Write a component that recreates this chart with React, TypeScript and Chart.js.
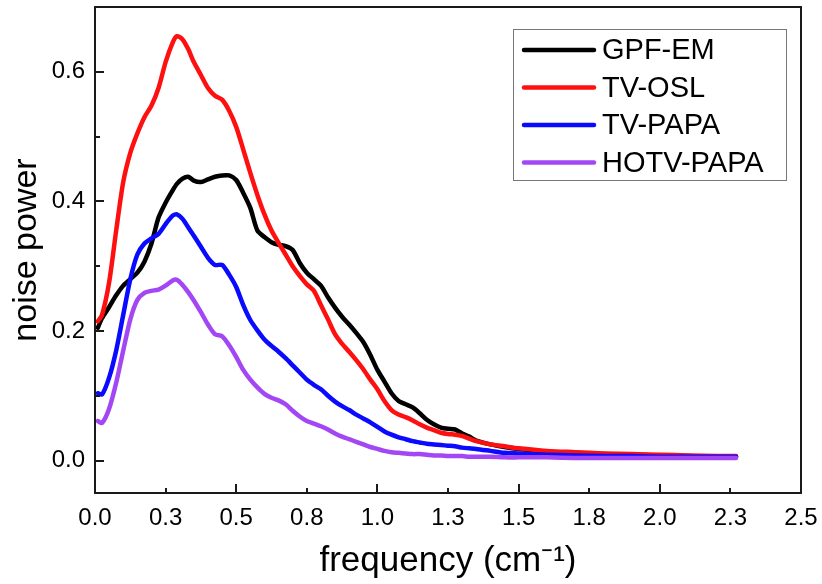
import React, { useEffect, useRef } from "react";
import { Chart, registerables } from "chart.js";

Chart.register(...registerables);

const frequency = [
  0.01, 0.025, 0.05, 0.075, 0.1, 0.125, 0.15, 0.175, 0.2, 0.225, 0.25, 0.275, 0.29, 0.31, 0.33, 0.35,
  0.375, 0.4, 0.425, 0.45, 0.475, 0.5, 0.525, 0.55, 0.575, 0.6, 0.625, 0.65, 0.675, 0.7, 0.725, 0.75,
  0.775, 0.8, 0.825, 0.85, 0.875, 0.9, 0.925, 0.95, 0.975, 1.0, 1.025, 1.05, 1.075, 1.1, 1.125, 1.15,
  1.175, 1.2, 1.225, 1.25, 1.275, 1.3, 1.325, 1.35, 1.4, 1.45, 1.5, 1.6, 1.7, 1.8, 1.9, 2.0, 2.1, 2.2, 2.27,
];

const gpfEm = [
  0.205, 0.22, 0.237, 0.255, 0.27, 0.28, 0.29, 0.307, 0.335, 0.375, 0.398, 0.417, 0.427, 0.435, 0.438, 0.432,
  0.43, 0.434, 0.438, 0.44, 0.44, 0.433, 0.413, 0.39, 0.355, 0.345, 0.337, 0.333, 0.331, 0.325, 0.305, 0.29,
  0.28, 0.27, 0.252, 0.236, 0.222, 0.21, 0.197, 0.183, 0.163, 0.14, 0.122, 0.104, 0.092, 0.087, 0.082, 0.073,
  0.063, 0.056, 0.051, 0.049, 0.048, 0.042, 0.037, 0.031, 0.025, 0.021, 0.018, 0.014, 0.012, 0.01, 0.009, 0.008, 0.007, 0.006, 0.006,
];

const tvOsl = [
  0.215, 0.225, 0.275, 0.355, 0.43, 0.475, 0.505, 0.53, 0.548, 0.575, 0.615, 0.645, 0.655, 0.65, 0.635, 0.615,
  0.595, 0.575, 0.563, 0.557, 0.54, 0.515, 0.48, 0.444, 0.41, 0.38, 0.355, 0.336, 0.318, 0.3, 0.285, 0.272,
  0.262, 0.24, 0.218, 0.195, 0.18, 0.168, 0.155, 0.141, 0.125, 0.11, 0.092, 0.078, 0.071, 0.067, 0.062, 0.056,
  0.051, 0.047, 0.043, 0.041, 0.04, 0.038, 0.034, 0.03, 0.025, 0.022, 0.019, 0.015, 0.013, 0.011, 0.01, 0.009, 0.008, 0.007, 0.007,
];

const tvPapa = [
  0.104, 0.102, 0.128, 0.17, 0.225, 0.28, 0.318, 0.335, 0.343, 0.35, 0.365, 0.378, 0.38, 0.373, 0.36, 0.347,
  0.33, 0.313, 0.302, 0.302, 0.287, 0.268, 0.24, 0.217, 0.201, 0.187, 0.177, 0.168, 0.158, 0.147, 0.136, 0.125,
  0.117, 0.11, 0.1, 0.091, 0.084, 0.078, 0.071, 0.065, 0.059, 0.052, 0.045, 0.04, 0.036, 0.033, 0.03, 0.028,
  0.026, 0.025, 0.024, 0.023, 0.022, 0.02, 0.019, 0.018, 0.015, 0.012, 0.011, 0.009, 0.008, 0.007, 0.007, 0.006, 0.006, 0.006, 0.006,
];

const hotvPapa = [
  0.061, 0.058, 0.08, 0.12, 0.17, 0.218, 0.248, 0.259, 0.262, 0.264, 0.27, 0.278, 0.279, 0.271, 0.26, 0.247,
  0.229, 0.21, 0.195, 0.192, 0.178, 0.16, 0.14, 0.125, 0.113, 0.103, 0.097, 0.093, 0.087, 0.077, 0.068, 0.061,
  0.057, 0.053, 0.048, 0.042, 0.037, 0.033, 0.029, 0.025, 0.021, 0.018, 0.015, 0.013, 0.012, 0.011, 0.01, 0.01,
  0.009, 0.008, 0.008, 0.007, 0.007, 0.007, 0.006, 0.006, 0.006, 0.005, 0.005, 0.005, 0.004, 0.004, 0.004, 0.004, 0.004, 0.004, 0.004,
];

const seriesLabels = ["GPF-EM", "TV-OSL", "TV-PAPA", "HOTV-PAPA"];
const seriesColors = ["#000000", "#ff1010", "#0a0aff", "#a347f5"];

const xTickValues = [0, 0.25, 0.5, 0.75, 1.0, 1.25, 1.5, 1.75, 2.0, 2.25, 2.5];
const xTickLabels = ["0.0", "0.3", "0.5", "0.8", "1.0", "1.3", "1.5", "1.8", "2.0", "2.3", "2.5"];
const yTickValues = [0, 0.2, 0.4, 0.6];
const yTickLabels = ["0.0", "0.2", "0.4", "0.6"];
const yMinorTicks = [0.1, 0.3, 0.5];

const xTitle = "frequency (cm\u207B\u00B9)";
const yTitle = "noise power";

const FONT = "'Liberation Sans', Arial, Helvetica, sans-serif";

const framePlugin = {
  id: "frameTicks",
  afterDatasetsDraw(chart: any) {
    const { ctx, chartArea } = chart;
    const xs = chart.scales.x;
    const ys = chart.scales.y;
    ctx.save();
    ctx.strokeStyle = "#1a1a1a";
    ctx.lineWidth = 2;
    ctx.strokeRect(chartArea.left, chartArea.top, chartArea.right - chartArea.left, chartArea.bottom - chartArea.top);
    ctx.beginPath();
    xTickValues.forEach((v, i) => {
      const px = Math.round(xs.getPixelForValue(v));
      const len = i % 2 === 0 ? 9 : 5;
      ctx.moveTo(px, chartArea.bottom);
      ctx.lineTo(px, chartArea.bottom - len);
    });
    yTickValues.forEach((v) => {
      const py = Math.round(ys.getPixelForValue(v));
      ctx.moveTo(chartArea.left, py);
      ctx.lineTo(chartArea.left + 9, py);
    });
    yMinorTicks.forEach((v) => {
      const py = Math.round(ys.getPixelForValue(v));
      ctx.moveTo(chartArea.left, py);
      ctx.lineTo(chartArea.left + 5, py);
    });
    ctx.stroke();

    // legend
    const bx = 513, by = 29, bw = 273, bh = 151;
    ctx.fillStyle = "#ffffff";
    ctx.fillRect(bx, by, bw, bh);
    ctx.strokeStyle = "#777777";
    ctx.lineWidth = 1;
    ctx.strokeRect(bx + 0.5, by + 0.5, bw, bh);
    ctx.font = `29px ${FONT}`;
    ctx.textBaseline = "middle";
    ctx.textAlign = "left";
    chart.data.datasets.forEach((ds: any, i: number) => {
      const yy = 50 + i * 37.5;
      ctx.strokeStyle = ds.borderColor;
      ctx.lineWidth = 4.5;
      ctx.lineCap = "round";
      ctx.beginPath();
      ctx.moveTo(524, yy);
      ctx.lineTo(594, yy);
      ctx.stroke();
      ctx.fillStyle = "#000000";
      ctx.fillText(ds.label, 602, yy + 1);
    });
    ctx.restore();
  },
};

export default function App() {
  const ref = useRef<HTMLCanvasElement>(null);
  useEffect(() => {
    if (!ref.current) return;
    const all = [gpfEm, tvOsl, tvPapa, hotvPapa];
    const chart = new Chart(ref.current, {
      type: "line",
      data: {
        datasets: all.map((vals, i) => ({
          label: seriesLabels[i],
          data: frequency.map((f, j) => ({ x: f, y: vals[j] })),
          borderColor: seriesColors[i],
          backgroundColor: seriesColors[i],
          borderWidth: 4.5,
          pointRadius: 0,
          tension: 0.25,
          fill: false,
          order: 4 - i,
          borderCapStyle: "round",
          borderJoinStyle: "round",
        })),
      },
      options: {
        responsive: false,
        animation: false,
        layout: { padding: { top: 7, right: 21, left: 0, bottom: 0 } },
        plugins: { legend: { display: false }, tooltip: { enabled: false } },
        scales: {
          x: {
            type: "linear",
            min: 0,
            max: 2.5,
            grid: { display: false, drawTicks: false },
            border: { display: false },
            afterBuildTicks: (s: any) => {
              s.ticks = xTickValues.map((v) => ({ value: v }));
            },
            afterFit: (s: any) => {
              s.height = 91;
              s.paddingLeft = 0;
              s.paddingRight = 0;
            },
            ticks: {
              autoSkip: false,
              maxRotation: 0,
              padding: 11,
              color: "#000",
              font: { family: FONT, size: 24 },
              callback: (_v: any, i: number) => xTickLabels[i],
            },
            title: {
              display: true,
              text: xTitle,
              color: "#000",
              font: { family: FONT, size: 35 },
              padding: { top: 0, bottom: 2 },
            },
          },
          y: {
            type: "linear",
            min: -0.05,
            max: 0.7,
            grid: { display: false, drawTicks: false },
            border: { display: false },
            afterBuildTicks: (s: any) => {
              s.ticks = yTickValues.map((v) => ({ value: v }));
            },
            afterFit: (s: any) => {
              s.width = 95;
              s.paddingTop = 0;
              s.paddingBottom = 0;
            },
            ticks: {
              autoSkip: false,
              padding: 10,
              color: "#000",
              font: { family: FONT, size: 24 },
              callback: (_v: any, i: number) => yTickLabels[i],
            },
            title: {
              display: true,
              text: yTitle,
              color: "#000",
              font: { family: FONT, size: 34 },
              padding: { top: 6, bottom: 0 },
            },
          },
        },
      },
      plugins: [framePlugin],
    });
    return () => chart.destroy();
  }, []);
  return (
    <div style={{ position: "fixed", left: 0, top: 0, width: 822, height: 584, background: "#fff" }}>
      <canvas ref={ref} width={822} height={584} style={{ width: 822, height: 584, display: "block" }} />
    </div>
  );
}
